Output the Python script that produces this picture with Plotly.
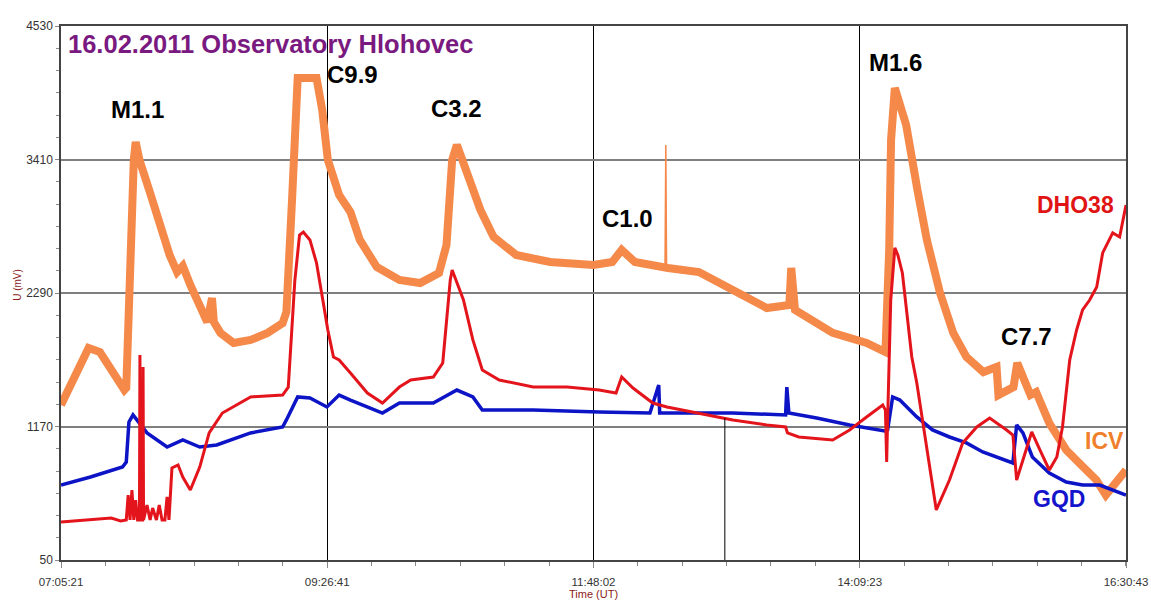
import plotly.graph_objects as go

DATE = "2011-02-16 "

# ---------------- data ----------------
X_TICKS = ["07:05:21", "09:26:41", "11:48:02", "14:09:23", "16:30:43"]
Y_TICKS = [50, 1170, 2290, 3410, 4530]

ICV_TIME = ["07:05:21", "07:13", "07:20", "07:26", "07:32", "07:39", "07:40", "07:42", "07:44", "07:45",
            "07:47", "07:53", "07:58", "08:03", "08:07", "08:10", "08:14", "08:19", "08:23", "08:25:30",
            "08:26:30", "08:30", "08:37", "08:46", "08:55", "09:03", "09:05", "09:08", "09:11", "09:21",
            "09:24", "09:27", "09:33", "09:39", "09:44", "09:53", "10:05", "10:16", "10:26", "10:30",
            "10:33", "10:35:30", "10:41", "10:48", "10:55", "11:07", "11:25", "11:48", "11:58", "12:03",
            "12:10", "12:25", "12:27:30", "12:44", "13:02", "13:20", "13:32", "13:33", "13:35",
            "13:55", "14:13", "14:23", "14:25", "14:26", "14:28", "14:31", "14:34", "14:40", "14:45",
            "14:52", "14:59", "15:06", "15:15", "15:22", "15:23", "15:31", "15:33", "15:40", "15:43",
            "15:50", "15:59", "16:08", "16:15", "16:20", "16:26", "16:30:43"]
ICV_MV = [1350, 1602, 1829, 1795, 1644, 1476, 1493, 2735, 3406, 3557,
          3406, 3112, 2861, 2609, 2466, 2517, 2357, 2189, 2047, 2248,
          2047, 1955, 1871, 1896, 1955, 2038, 2131, 3070, 4094, 4094,
          3826, 3406, 3112, 2970, 2735, 2508, 2399, 2374, 2458, 2693,
          3406, 3532, 3280, 2987, 2760, 2609, 2550, 2525, 2550, 2651,
          2550, 2500, 2500, 2466, 2315, 2164, 2189, 2500, 2148,
          1955, 1871, 1795, 2651, 3574, 4010, 3867, 3700, 3154, 2735,
          2290, 1955, 1753, 1627, 1669, 1434, 1501, 1703, 1434, 1459,
          1199, 973, 830, 721, 595, 704, 805]

ICV_SPIKE_TIME = ["12:26:00", "12:26:25", "12:26:50"]
ICV_SPIKE_MV = [2500, 3532, 2500]

DHO_TIME = ["07:05:21", "07:32", "07:37", "07:40", "07:41", "07:42", "07:43", "07:44", "07:45", "07:46",
            "07:47", "07:47:15", "07:47:30", "07:48:40", "07:48:55", "07:49:10", "07:51", "07:52:40",
            "07:54", "07:56", "07:57:30", "07:59", "08:00:30", "08:01:40", "08:02:40", "08:04:15",
            "08:07:30", "08:10", "08:14", "08:19", "08:24", "08:31", "08:46", "09:03", "09:06",
            "09:09:30", "09:12", "09:14", "09:17:30", "09:21", "09:24:20", "09:27", "09:30", "09:33",
            "09:39", "09:48", "09:56", "10:05", "10:11", "10:23", "10:28", "10:32", "10:33", "10:39",
            "10:44", "10:49", "10:58", "11:16", "11:34", "11:51", "12:00", "12:03", "12:09", "12:19:30",
            "12:27", "12:44", "13:02", "13:20", "13:30", "13:31", "13:37", "13:55", "14:04", "14:13",
            "14:21:35", "14:23", "14:23:40", "14:24:10", "14:25:50", "14:28", "14:29:35", "14:32",
            "14:37", "14:39:40", "14:45", "14:50", "14:57", "15:04", "15:11:30", "15:18:20", "15:27:20",
            "15:30:40", "15:32:40", "15:36", "15:40:40", "15:45", "15:50", "15:54", "15:57", "16:00:50",
            "16:04:30", "16:07:40", "16:11:25", "16:15:10", "16:18:20", "16:23:40", "16:27:20", "16:30:43"]
DHO_MV = [369, 402, 377, 386, 595, 386, 637, 386, 553, 386,
          386, 1770, 386, 386, 1669, 386, 511, 386,
          486, 386, 511, 386, 386, 579, 386, 822,
          847, 746, 637, 830, 1116, 1283, 1418, 1434, 1500,
          2399, 2777, 2802, 2735, 2542, 2231, 1980, 1753, 1728,
          1619, 1451, 1367, 1501, 1560, 1585, 1703, 2399, 2483, 2231,
          1896, 1644, 1560, 1501, 1501, 1476, 1451, 1585, 1493, 1367,
          1334, 1283, 1225, 1183, 1166, 1116, 1082, 1057, 1141, 1250,
          1350, 1308, 872, 1225, 2231, 2668, 2609, 2458,
          1753, 1535, 973, 470, 721, 1032, 1166, 1241, 1141,
          1099, 721, 889, 1124, 973, 805, 914, 1166, 1728,
          1980, 2148, 2231, 2340, 2626, 2794, 2760, 3028]

GQD_TIME = ["07:05:21", "07:21", "07:38", "07:40", "07:41:25", "07:43:35", "07:51", "08:01:40", "08:10",
            "08:19", "08:28", "08:46", "09:03", "09:05", "09:11", "09:17:30", "09:26:30", "09:33", "09:39",
            "09:56", "10:05", "10:23", "10:35:30", "10:44", "10:49", "11:16", "11:51", "12:18", "12:22:40",
            "12:23:10", "13:02", "13:30", "13:30:40", "13:31:45", "13:46:30", "14:04", "14:22:40",
            "14:24:10", "14:26:50", "14:30:40", "14:39:40", "14:48", "14:57", "15:06", "15:14:40",
            "15:30:40", "15:32:40", "15:36", "15:41", "15:50", "15:59", "16:07:40", "16:16:45", "16:30:43"]
GQD_MV = [679, 746, 830, 872, 1208, 1267, 1116, 998, 1057,
          998, 1015, 1116, 1166, 1225, 1418, 1409, 1334, 1434, 1392,
          1283, 1367, 1367, 1476, 1418, 1308, 1308, 1292, 1283, 1518,
          1283, 1283, 1267, 1501, 1283, 1241, 1183, 1132,
          1141, 1418, 1392, 1250, 1141, 1082, 1032, 956,
          864, 1183, 1116, 914, 780, 704, 679, 679, 595]

MARKER_TIME = "12:57:45"
MARKER_TOP = 1240

FLARES = ["M1.1", "C9.9", "C3.2", "C1.0", "M1.6", "C7.7"]
FLARE_TIME = ["07:46", "09:40", "10:35:30", "12:06", "14:28:30", "15:38"]
FLARE_MV = [3826, 4119, 3834, 2911, 4220, 1921]

STATIONS = ["DHO38", "ICV", "GQD"]
STATION_TIME = ["16:04", "16:19:25", "15:55"]
STATION_MV = [3028, 1048, 562]


def ts(lst):
    return [DATE + (t if t.count(":") == 2 else t + ":00") for t in lst]


ORANGE = "#f4894a"
RED = "#e3141b"
BLUE = "#0c14c6"
FONT = "Liberation Sans, Arial, sans-serif"

fig = go.Figure()
fig.add_trace(go.Scatter(x=ts(ICV_TIME), y=ICV_MV, mode="lines",
                         line=dict(color=ORANGE, width=8), name="ICV"))
fig.add_trace(go.Scatter(x=ts(ICV_SPIKE_TIME), y=ICV_SPIKE_MV, mode="lines",
                         line=dict(color=ORANGE, width=1.5), name="ICV spike"))
fig.add_trace(go.Scatter(x=ts(GQD_TIME), y=GQD_MV, mode="lines",
                         line=dict(color=BLUE, width=3.5), name="GQD"))
fig.add_trace(go.Scatter(x=ts(DHO_TIME), y=DHO_MV, mode="lines",
                         line=dict(color=RED, width=3), name="DHO38"))

fig.add_shape(type="line", xref="x", yref="y",
              x0=ts([MARKER_TIME])[0], x1=ts([MARKER_TIME])[0], y0=50, y1=MARKER_TOP,
              line=dict(color="black", width=1))

annotations = []
for txt, t, v in zip(FLARES, FLARE_TIME, FLARE_MV):
    annotations.append(dict(x=ts([t])[0], y=v, xref="x", yref="y", text="<b>%s</b>" % txt,
                            showarrow=False, font=dict(family=FONT, size=24, color="black")))
station_colors = ["#e01414", "#f07f2c", "#1414cc"]
for txt, t, v, c in zip(STATIONS, STATION_TIME, STATION_MV, station_colors):
    annotations.append(dict(x=ts([t])[0], y=v, xref="x", yref="y", text="<b>%s</b>" % txt,
                            showarrow=False, font=dict(family=FONT, size=23, color=c)))
annotations.append(dict(x=0.005, y=0.966, xref="paper", yref="paper", xanchor="left", yanchor="middle",
                        text="<b>16.02.2011 Observatory Hlohovec</b>", showarrow=False,
                        font=dict(family=FONT, size=25.5, color="#7a1a80")))
annotations.append(dict(x=0.5, y=-0.064, xref="paper", yref="paper", xanchor="center", yanchor="middle",
                        text="Time (UT)", showarrow=False,
                        font=dict(family=FONT, size=11, color="#8b1a1a")))
annotations.append(dict(x=-0.041, y=0.516, xref="paper", yref="paper", xanchor="center", yanchor="middle",
                        text="U (mV)", textangle=-90, showarrow=False,
                        font=dict(family=FONT, size=10, color="#8b1a1a")))

fig.update_layout(
    width=1151, height=601,
    margin=dict(l=61, r=25, t=26, b=41, autoexpand=False),
    paper_bgcolor="white", plot_bgcolor="white",
    showlegend=False,
    annotations=annotations,
    font=dict(family=FONT, size=11, color="#333"),
)
fig.update_xaxes(
    type="date", automargin=False,
    range=[DATE + X_TICKS[0], DATE + X_TICKS[-1]],
    tickmode="array", tickvals=ts(X_TICKS), ticktext=X_TICKS,
    showgrid=True, gridcolor="black", gridwidth=1,
    showline=True, mirror=True, linecolor="#444", linewidth=1.5,
    ticks="outside", ticklen=6, tickcolor="#888", ticklabelstandoff=4,
    tickfont=dict(family=FONT, size=11.5, color="#333"),
    minor=dict(ticks="outside", ticklen=4, tickcolor="#888",
               dtick=8480000 / 6, tick0=DATE + X_TICKS[0], showgrid=False),
    zeroline=False,
)
fig.update_yaxes(
    automargin=False,
    range=[50, 4530],
    tickmode="array", tickvals=Y_TICKS, ticktext=[str(v) for v in Y_TICKS],
    showgrid=True, gridcolor="#7f7f7f", gridwidth=1.5,
    showline=True, mirror=True, linecolor="#444", linewidth=1.5,
    ticks="outside", ticklen=4, tickcolor="#888",
    tickfont=dict(family=FONT, size=12, color="#333"),
    minor=dict(ticks="outside", ticklen=3, tickcolor="#888",
               dtick=1120 / 6, tick0=50, showgrid=False),
    zeroline=False,
)

fig.write_html("out.html", config={"displayModeBar": False},
               post_script="document.body.style.margin='0';")
